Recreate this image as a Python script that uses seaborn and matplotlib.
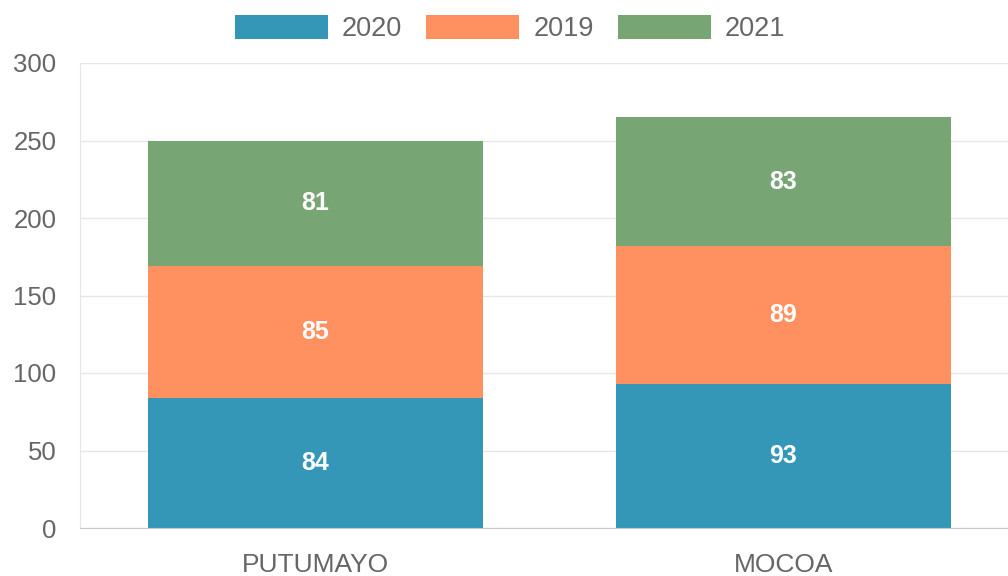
import numpy as np
import matplotlib.pyplot as plt
import seaborn as sns

# data
categories = ["PUTUMAYO", "MOCOA"]
years = ["2020", "2019", "2021"]
values_2020 = [84, 93]
values_2019 = [85, 89]
values_2021 = [81, 83]

colors = {"2020": "#3597b8", "2019": "#ff9160", "2021": "#78a574"}
series = {"2020": values_2020, "2019": values_2019, "2021": values_2021}

sns.set_style("white")
plt.rcParams["font.family"] = ["Liberation Sans", "DejaVu Sans"]

fig = plt.figure(figsize=(10.08, 5.76), dpi=100)
ax = fig.add_axes([80 / 1008, 48 / 576, 928 / 1008, 465 / 576])

# -------- stacked bars --------
bottom = np.zeros(len(categories))
for year in years:
    vals = series[year]
    sns.barplot(x=categories, y=vals, color=colors[year], saturation=1,
                width=0.717, bottom=bottom, linewidth=0, errorbar=None,
                ax=ax, label=year)
    ax.bar_label(ax.containers[-1], labels=[str(v) for v in vals],
                 label_type="center", color="white", fontsize=18,
                 fontweight="bold")
    bottom = bottom + np.array(vals)

# -------- axes styling --------
ax.set_ylim(0, 300)
ax.set_yticks(range(0, 301, 50))
ax.set_xlim(-0.504, 1.481)
ax.set_xlabel("")
ax.set_ylabel("")
ax.grid(axis="y", color="#e6e6e6", linewidth=1)
ax.set_axisbelow(True)
ax.tick_params(axis="y", length=15, width=1, color="#e6e6e6", pad=2,
               labelsize=18.5, labelcolor="#666666")
ax.tick_params(axis="x", length=0, pad=18, labelsize=19,
               labelcolor="#666666")
for side in ["top", "right"]:
    ax.spines[side].set_visible(False)
ax.spines["left"].set_color("#e6e6e6")
ax.spines["bottom"].set_color("#c8c8c8")

handles, labels = ax.get_legend_handles_labels()
if ax.get_legend() is not None:
    ax.get_legend().remove()
fig.legend(handles, labels, loc="center", bbox_to_anchor=(0.506, 0.951),
           ncol=3, frameon=False, fontsize=19.5, handlelength=3.44,
           handleheight=1.0, handletextpad=0.52, columnspacing=0.89,
           labelcolor="#666666")

fig.savefig("out.png", dpi=100)
